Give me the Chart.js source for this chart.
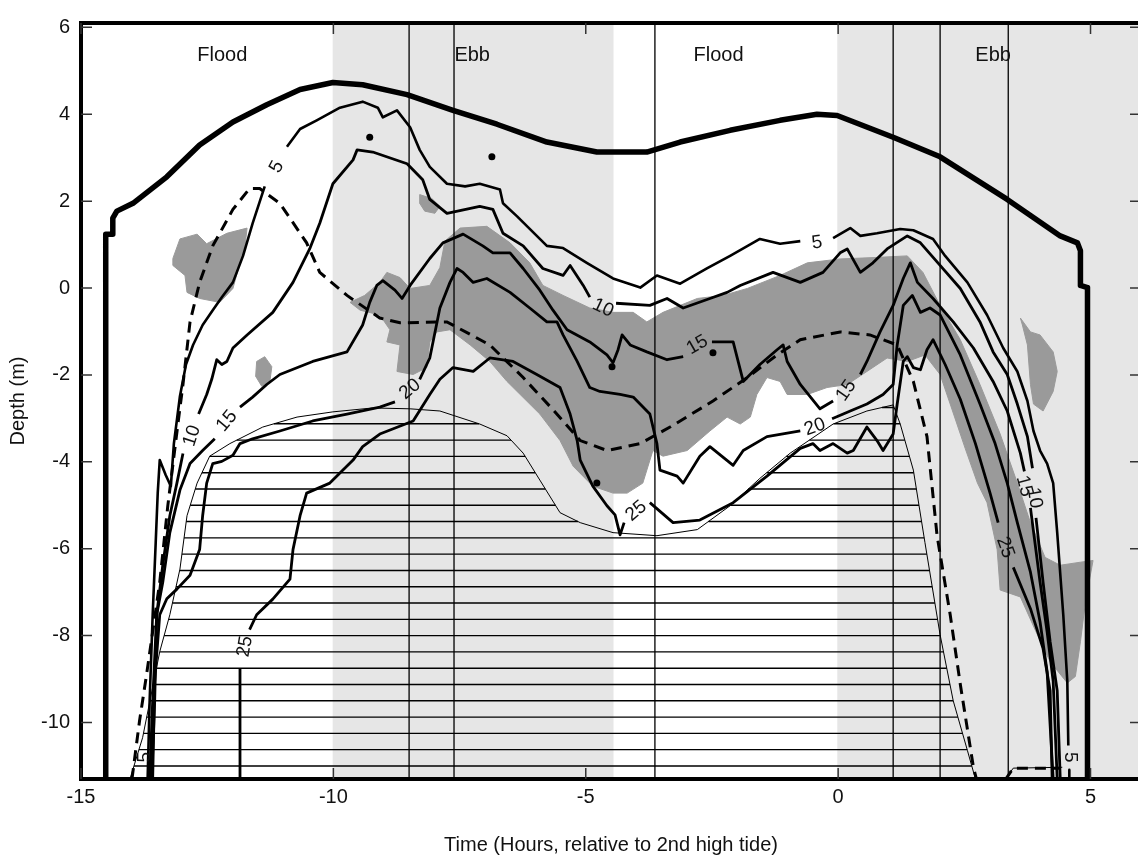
<!DOCTYPE html>
<html>
<head>
<meta charset="utf-8">
<script src="https://cdn.jsdelivr.net/npm/chart.js@4.4.1/dist/chart.umd.min.js"></script>
<style>
  html, body { margin: 0; padding: 0; background: #fff; overflow: hidden; }
  #wrap { position: absolute; left: 0; top: 0; width: 1146px; height: 858px; }
</style>
</head>
<body>
<div id="wrap"><canvas id="salinityChart"></canvas></div>
<script>
// Axes
const xTicks = [-15, -10, -5, 0, 5];
const yTicks = [6, 4, 2, 0, -2, -4, -6, -8, -10];
const xMin = -15, xMax = 6, yMin = -11.3, yMax = 6.1;

// Tide phases (hours) and station times
const ebbPeriods = [[-10, -4.46], [0, 6]];
const stationTimes = [-8.50, -7.61, -3.63, 1.09, 2.02, 3.37];
const phaseNames = ['Flood', 'Ebb', 'Flood', 'Ebb'];
const phaseTimes = [-12.2, -7.25, -2.37, 3.07];
const phaseLabelDepth = 5.35;

// Water surface [hour, depth]
const surfaceLine = [[-14.51,-11.3],[-14.51,1.24],[-14.37,1.24],[-14.37,1.61],[-14.29,1.77],[-13.97,1.95],[-13.30,2.56],[-12.65,3.29],[-11.99,3.82],[-11.32,4.22],[-10.66,4.57],[-10.01,4.73],[-9.42,4.68],[-8.54,4.45],[-7.63,4.09],[-6.76,3.77],[-5.77,3.36],[-4.78,3.13],[-3.79,3.13],[-3.13,3.36],[-2.14,3.63],[-1.15,3.86],[-0.42,4.00],[-0.02,3.97],[1.09,3.47],[2.02,3.02],[3.35,2.04],[4.40,1.20],[4.74,1.04],[4.80,0.86],[4.80,0.06],[4.94,0.01],[4.94,-11.3]];

// Dashed line
const dashedLine = [[-13.99,-11.30],[-13.84,-9.96],[-13.70,-8.89],[-13.44,-6.77],[-13.28,-5.01],[-13.08,-3.13],[-12.98,-2.22],[-12.84,-0.78],[-12.65,0.13],[-12.39,0.97],[-11.99,1.81],[-11.66,2.29],[-11.46,2.29],[-11.06,1.95],[-10.53,1.04],[-10.27,0.36],[-9.73,-0.17],[-9.08,-0.69],[-8.68,-0.80],[-7.75,-0.78],[-6.90,-1.31],[-6.24,-2.06],[-5.65,-2.80],[-5.11,-3.51],[-4.58,-3.74],[-3.92,-3.58],[-3.33,-3.20],[-2.48,-2.60],[-1.80,-2.06],[-1.21,-1.54],[-0.75,-1.19],[0.04,-1.01],[0.63,-1.08],[1.17,-1.31],[1.49,-2.15],[1.76,-3.42],[1.96,-5.70],[2.22,-7.52],[2.42,-9.12],[2.68,-11.03],[2.74,-11.30],[3.31,-11.32],[3.47,-11.05],[4.40,-11.05]];

// Thin bed line (hatched below) and its tail
const bedLine = [[-14.03,-11.30],[-13.78,-10.35],[-13.44,-8.37],[-13.24,-7.52],[-13.04,-6.47],[-12.90,-5.24],[-12.70,-4.49],[-12.45,-3.87],[-12.05,-3.58],[-11.40,-3.20],[-10.72,-2.97],[-10.01,-2.85],[-9.22,-2.76],[-8.48,-2.78],[-7.89,-2.83],[-7.10,-3.13],[-6.56,-3.40],[-6.24,-3.80],[-5.91,-4.42],[-5.51,-5.17],[-5.11,-5.40],[-4.46,-5.63],[-3.59,-5.70],[-2.79,-5.56],[-2.14,-5.01],[-1.55,-4.38],[-0.95,-3.80],[-0.10,-3.13],[0.57,-2.83],[1.09,-2.69],[1.23,-3.13],[1.49,-4.19],[1.72,-5.86],[2.02,-7.98],[2.28,-9.50],[2.56,-10.64],[2.72,-11.30]];
const bedTail = [[2.72,-11.30],[3.31,-11.30],[3.47,-11.05],[4.44,-11.03]];
const hatchDepths = [-2.75,-3.125,-3.5,-3.875,-4.25,-4.625,-5,-5.375,-5.75,-6.125,-6.5,-6.875,-7.25,-7.625,-8,-8.375,-8.75,-9.125,-9.5,-9.875,-10.25,-10.625,-11];

// Salinity contours (null = break for label)
const contour5 = [[-13.68,-11.30],[-13.64,-9.50],[-13.58,-7.52],[-13.52,-5.86],[-13.48,-4.72],[-13.44,-3.96],[-13.32,-4.31],[-13.22,-4.56],[-13.16,-3.58],[-13.04,-2.49],[-12.92,-1.76],[-12.78,-1.31],[-12.59,-0.85],[-12.39,-0.51],[-12.21,-0.21],[-11.99,0.13],[-11.79,0.74],[-11.60,1.49],[-11.36,2.34],null,[-10.92,3.25],[-10.66,3.66],[-10.33,3.86],[-9.87,4.15],[-9.42,4.29],[-9.12,4.15],[-9.02,3.93],[-8.74,4.09],[-8.48,3.70],[-8.29,3.18],[-8.09,2.79],[-7.75,2.40],[-7.39,2.34],[-7.10,2.40],[-6.70,2.27],[-6.64,1.95],[-6.36,1.65],[-6.11,1.36],[-5.77,0.97],[-5.45,0.92],[-4.98,0.58],[-4.46,0.22],[-3.92,0.01],[-3.59,0.29],[-3.13,0.10],[-2.60,0.45],[-2.14,0.74],[-1.55,1.13],[-1.15,1.02],[-0.75,1.08],null,[-0.10,1.15],[0.24,1.38],[0.44,1.20],[0.77,1.26],[1.23,1.36],[1.49,1.33],[1.88,1.13],[2.12,0.74],[2.56,0.13],[2.95,-0.62],[3.27,-1.38],[3.55,-1.92],[3.75,-2.60],[3.87,-3.29],[4.00,-3.74],[4.14,-4.04],[4.26,-4.49],[4.34,-5.63],[4.46,-7.52],[4.54,-9.05],[4.56,-10.53],null,[4.58,-11.09],[4.58,-11.30]];
const contour10 = [[-13.64,-11.30],[-13.58,-9.50],[-13.50,-7.52],[-13.38,-6.38],[-13.24,-5.24],[-13.10,-4.49],[-12.98,-3.81],null,[-12.67,-2.90],[-12.51,-2.45],[-12.41,-2.10],[-12.31,-1.65],[-12.21,-1.76],[-12.11,-1.69],[-11.99,-1.38],[-11.71,-1.08],[-11.20,-0.56],[-10.80,0.13],[-10.47,0.90],[-10.27,1.49],[-10.01,2.40],[-9.61,2.95],[-9.53,3.18],[-9.22,3.13],[-8.54,2.86],[-8.23,2.49],[-8.09,2.04],[-7.75,1.72],[-7.10,1.88],[-6.84,1.81],[-6.64,1.26],[-6.24,0.97],[-5.85,0.45],[-5.45,0.29],[-5.31,0.52],[-5.05,0.06],[-4.92,-0.21],null,[-4.40,-0.35],[-3.73,-0.40],[-3.39,-0.24],[-3.07,-0.46],[-2.54,-0.24],[-2.20,-0.10],[-1.94,0.06],[-1.29,0.36],[-0.75,0.13],[-0.30,0.36],[0.04,0.81],[0.18,0.90],[0.44,0.36],[0.69,0.58],[0.97,0.90],[1.37,1.20],[1.63,1.04],[2.02,0.52],[2.42,-0.01],[2.81,-0.78],[3.07,-1.47],[3.35,-1.99],[3.55,-2.67],[3.75,-3.42],[3.85,-4.15],null,[3.92,-5.29],[4.06,-6.77],[4.20,-8.14],[4.34,-9.27],[4.40,-11.30]];
const contour15 = [[-13.60,-11.30],[-13.54,-9.50],[-13.50,-7.52],[-13.38,-6.77],[-13.24,-5.63],[-13.04,-4.65],[-12.84,-4.04],[-12.59,-3.74],[-12.35,-3.47],null,[-11.85,-2.74],[-11.60,-2.51],[-11.32,-2.22],[-11.06,-1.99],[-10.41,-1.69],[-9.73,-1.47],[-9.42,-0.85],[-9.28,-0.33],[-9.14,0.06],[-9.02,0.17],[-8.78,-0.05],[-8.64,-0.24],[-8.48,0.06],[-8.09,0.68],[-7.83,1.04],[-7.43,1.24],[-7.04,0.97],[-6.84,0.81],[-6.50,0.81],[-6.24,0.45],[-5.91,-0.05],[-5.65,-0.51],[-5.37,-0.96],[-4.92,-1.24],[-4.58,-1.54],[-4.46,-1.72],[-4.36,-1.42],[-4.28,-1.08],[-4.12,-1.31],[-3.79,-1.47],[-3.39,-1.65],[-3.07,-1.58],null,[-2.50,-1.24],[-2.08,-1.24],[-1.88,-2.15],[-1.55,-1.76],[-1.21,-1.42],[-1.09,-1.31],[-1.01,-1.69],[-0.75,-2.22],[-0.36,-2.78],[-0.10,-2.60],null,[0.44,-1.99],[0.57,-1.69],[0.83,-1.01],[1.09,-0.40],[1.29,0.22],[1.43,0.58],[1.57,0.13],[1.88,-0.24],[2.28,-0.78],[2.68,-1.38],[3.07,-2.15],[3.35,-2.83],[3.61,-3.80],[3.69,-4.22],null,[3.81,-5.06],[4.00,-6.77],[4.14,-7.91],[4.26,-9.05],[4.34,-11.30]];
const contour20 = [[-13.58,-11.30],[-13.54,-9.05],[-13.44,-7.52],[-13.30,-7.15],[-13.10,-6.93],[-12.84,-6.61],[-12.65,-6.02],[-12.59,-5.24],[-12.51,-4.49],[-12.39,-4.04],[-12.21,-3.99],[-11.99,-3.85],[-11.85,-3.58],[-11.60,-3.47],[-11.06,-3.29],[-10.41,-3.06],[-9.73,-2.90],[-9.08,-2.74],[-8.78,-2.62],null,[-8.29,-2.10],[-8.09,-1.61],[-7.89,-0.46],[-7.69,0.13],[-7.55,0.45],[-7.43,0.36],[-7.23,0.13],[-6.96,0.22],[-6.50,-0.10],[-6.11,-0.46],[-5.77,-0.78],[-5.57,-0.78],[-5.45,-1.08],[-5.17,-1.69],[-4.92,-2.29],[-4.72,-2.38],[-4.32,-2.45],[-4.06,-2.51],[-3.73,-2.90],[-3.59,-3.58],[-3.53,-4.19],[-3.19,-4.33],[-3.07,-4.49],[-2.74,-3.87],[-2.54,-3.65],[-2.08,-4.08],[-1.88,-3.74],[-1.41,-3.42],[-0.75,-3.29],null,[-0.12,-3.01],[0.24,-2.83],[0.57,-2.67],[0.89,-2.45],[1.09,-2.22],[1.17,-1.31],[1.29,-0.40],[1.47,-0.17],[1.63,-0.56],[1.82,-0.46],[2.02,-0.62],[2.42,-1.54],[2.81,-2.67],[3.11,-3.58],[3.35,-4.49],[3.55,-5.40],[3.81,-6.54],[4.00,-7.68],[4.14,-8.83],[4.26,-11.30]];
const contour25 = [[-11.85,-11.30],[-11.85,-8.77],null,[-11.66,-7.86],[-11.52,-7.52],[-11.20,-7.16],[-10.86,-6.70],[-10.80,-6.02],[-10.66,-5.24],[-10.53,-4.72],[-10.07,-4.49],[-9.61,-3.96],[-9.42,-3.65],[-9.08,-3.36],[-8.42,-3.06],[-8.09,-2.45],[-7.89,-2.10],[-7.63,-1.83],[-7.23,-1.92],[-6.90,-1.61],[-6.44,-1.69],[-5.97,-1.99],[-5.51,-2.29],[-5.31,-2.90],[-5.17,-3.51],[-5.11,-3.96],[-4.86,-4.56],[-4.58,-5.01],[-4.42,-5.22],[-4.32,-5.68],[-4.24,-5.40],null,[-3.73,-4.94],[-3.27,-5.40],[-2.74,-5.34],[-2.08,-4.94],[-1.41,-4.33],[-0.75,-3.69],[-0.50,-3.58],[-0.36,-3.74],[-0.10,-3.58],[0.18,-3.80],[0.30,-3.74],[0.57,-3.20],[0.77,-3.51],[0.89,-3.74],[1.09,-3.36],[1.17,-2.67],[1.29,-1.69],[1.37,-1.58],[1.49,-1.83],[1.63,-1.88],[1.76,-1.42],[1.88,-1.19],[2.12,-1.76],[2.42,-2.56],[2.72,-3.58],[3.01,-4.72],[3.17,-5.40],null,[3.47,-6.43],[3.81,-7.38],[4.06,-8.30],[4.20,-9.27],[4.24,-11.30]];

// Contour labels: [text, hour, depth, angle]
const contourLabels = [
  ['5', -11.12, 2.79, -62], ['10', -12.80, -3.40, -72], ['15', -12.11, -3.06, -50],
  ['25', -11.75, -8.25, -80], ['20', -8.48, -2.33, -40], ['10', -4.66, -0.46, 25],
  ['15', -2.79, -1.31, -30], ['25', -4.00, -5.13, -40], ['5', -0.42, 1.04, -8],
  ['20', -0.46, -3.20, -20], ['15', 0.16, -2.36, -55], ['15', 3.69, -4.56, 75],
  ['10', 3.89, -4.83, 80], ['25', 3.31, -5.97, 70], ['5', 4.60, -10.80, 90],
  ['5', -13.74, -10.80, -90]
];

// Dark shaded patches (polygons)
const patchLeft = [[-13.18,0.68],[-13.04,1.13],[-12.70,1.24],[-12.51,1.02],[-12.11,1.26],[-11.71,1.38],[-11.75,0.97],[-11.85,0.58],[-11.99,-0.01],[-12.25,-0.33],[-12.65,-0.24],[-12.90,-0.10],[-12.94,0.29],[-13.18,0.52]];
const patchSmall = [[-11.52,-1.69],[-11.36,-1.58],[-11.22,-1.81],[-11.26,-2.17],[-11.42,-2.26],[-11.54,-2.03]];
const patchTop = [[-8.29,2.15],[-8.05,2.06],[-7.89,1.88],[-7.99,1.72],[-8.19,1.77],[-8.29,1.95]];
const patchRight = [[3.61,-0.69],[3.81,-1.01],[4.00,-1.08],[4.26,-1.47],[4.34,-1.92],[4.26,-2.38],[4.06,-2.83],[3.87,-2.67],[3.81,-2.22],[3.75,-1.31],[3.65,-0.85]];
const patchCentral = [[-9.67,-0.33],[-9.38,-0.17],[-9.08,0.13],[-8.94,0.36],[-8.68,0.24],[-8.48,-0.01],[-8.09,0.06],[-7.89,0.47],[-7.79,1.08],[-7.49,1.38],[-6.96,1.42],[-6.50,1.04],[-6.11,0.58],[-5.85,0.06],[-5.45,-0.17],[-4.92,-0.46],[-4.46,-0.56],[-4.06,-0.56],[-3.79,-0.78],[-3.47,-0.56],[-2.79,-0.24],[-2.28,-0.17],[-1.80,-0.01],[-1.15,0.29],[-0.61,0.58],[0.04,0.67],[0.69,0.70],[1.37,0.74],[1.68,0.36],[2.02,-0.40],[2.42,-1.19],[2.81,-2.22],[3.21,-3.36],[3.55,-4.49],[3.81,-5.40],[4.10,-6.20],[4.40,-6.38],[4.80,-6.31],[5.05,-6.27],[4.90,-7.22],[4.80,-8.14],[4.70,-8.94],[4.54,-9.09],[4.20,-8.60],[3.90,-7.86],[3.61,-7.11],[3.21,-6.95],[3.15,-6.02],[2.95,-4.94],[2.76,-4.49],[2.52,-3.70],[2.22,-2.67],[2.02,-1.99],[1.72,-1.54],[1.37,-1.69],[0.97,-1.61],[0.57,-1.92],[0.18,-2.22],[-0.22,-2.29],[-0.61,-2.45],[-1.01,-2.45],[-1.15,-2.15],[-1.41,-2.06],[-1.61,-2.45],[-1.74,-2.97],[-1.94,-3.13],[-2.20,-2.97],[-2.54,-3.29],[-2.99,-3.74],[-3.47,-3.87],[-3.67,-3.74],[-3.87,-4.49],[-4.18,-4.72],[-4.46,-4.72],[-4.86,-4.56],[-5.25,-4.10],[-5.51,-3.51],[-5.91,-2.90],[-6.30,-2.45],[-6.56,-2.15],[-6.90,-1.69],[-7.29,-1.31],[-7.69,-0.96],[-7.95,-1.01],[-8.09,-1.24],[-8.15,-1.83],[-8.42,-1.99],[-8.74,-1.92],[-8.68,-1.31],[-8.94,-1.24],[-8.88,-0.96],[-9.08,-0.62],[-9.47,-0.51]];

// Small black blobs
const blobs = [[-9.28,3.47],[-6.86,3.02],[-4.48,-1.81],[-2.48,-1.49],[-4.78,-4.49]];

const FONT = '"Liberation Sans", Arial, Helvetica, sans-serif';

function pts(arr) {
    return arr.map(p => p ? {x: p[0], y: p[1]} : {x: null, y: null});
}
function closed(arr) {
    return pts(arr.concat([arr[0]]));
}
function hatchSegments(curve, depths) {
    const out = [];
    depths.forEach(d => {
        const xs = [];
        for (let i = 0; i < curve.length - 1; i++) {
            const [x1, y1] = curve[i], [x2, y2] = curve[i + 1];
            if ((y1 < d) !== (y2 < d)) xs.push(x1 + (d - y1) * (x2 - x1) / (y2 - y1));
        }
        xs.sort((a, b) => a - b);
        for (let k = 0; k + 1 < xs.length; k += 2) {
            out.push({x: xs[k], y: d}, {x: xs[k + 1], y: d}, {x: null, y: null});
        }
    });
    return out;
}
function stationData() {
    const out = [];
    stationTimes.forEach(t => out.push({x: t, y: yMin}, {x: t, y: yMax}, {x: null, y: null}));
    return out;
}

const line = (data, width, order, extra) => Object.assign({
    data: data, showLine: true, borderColor: '#000', borderWidth: width,
    pointRadius: 0, pointHoverRadius: 0, fill: false, tension: 0,
    borderJoinStyle: 'round', order: order
}, extra || {});
const shape = (poly, color, order) => ({
    data: closed(poly), showLine: true, fill: 'shape', backgroundColor: color,
    borderColor: color, borderWidth: 1, pointRadius: 0, pointHoverRadius: 0, order: order
});

const datasets = [];
ebbPeriods.forEach(([a, b]) => {
    datasets.push(shape([[a, yMin], [b, yMin], [b, yMax], [a, yMax]], '#e6e6e6', 20));
});
[patchLeft, patchSmall, patchTop, patchRight, patchCentral].forEach(p => {
    datasets.push(shape(p, '#9a9a9a', 15));
});
datasets.push(line(hatchSegments(bedLine, hatchDepths), 1.4, 12));
datasets.push(line(pts(bedLine), 1, 11));
datasets.push(line(pts(bedTail), 1, 11));
datasets.push(line(stationData(), 1.3, 10));
datasets.push(line(pts(dashedLine), 3, 8, {borderDash: [11, 7], borderJoinStyle: 'miter'}));
datasets.push(line(pts(contour5), 2.6, 6));
datasets.push(line(pts(contour10), 2.8, 6));
datasets.push(line(pts(contour15), 2.8, 6));
datasets.push(line(pts(contour20), 2.8, 6));
datasets.push(line(pts(contour25), 2.8, 6));
datasets.push(line(pts(surfaceLine), 5.5, 4));
datasets.push({data: pts(blobs), showLine: false, pointRadius: 3.5, pointBackgroundColor: '#000', pointBorderWidth: 0, order: 2});

// Labels, frame and inward ticks
const decorPlugin = {
    id: 'decor',
    afterDatasetsDraw(chart) {
        const {ctx, chartArea: a, scales: {x, y}} = chart;
        ctx.save();
        ctx.fillStyle = '#111';
        ctx.textAlign = 'center';
        ctx.textBaseline = 'middle';
        ctx.font = '19px ' + FONT;
        contourLabels.forEach(([t, h, d, ang]) => {
            ctx.save();
            ctx.translate(x.getPixelForValue(h), y.getPixelForValue(d));
            ctx.rotate(ang * Math.PI / 180);
            ctx.fillText(t, 0, 0);
            ctx.restore();
        });
        ctx.font = '20px ' + FONT;
        phaseNames.forEach((n, i) => {
            ctx.fillText(n, x.getPixelForValue(phaseTimes[i]), y.getPixelForValue(phaseLabelDepth));
        });

        ctx.strokeStyle = '#000';
        ctx.lineWidth = 4;
        ctx.beginPath();
        ctx.moveTo(a.right, a.top);
        ctx.lineTo(a.left, a.top);
        ctx.lineTo(a.left, a.bottom);
        ctx.lineTo(a.right, a.bottom);
        ctx.lineTo(a.right, a.top);
        ctx.stroke();

        ctx.lineWidth = 1.5;
        ctx.strokeStyle = '#333';
        ctx.beginPath();
        xTicks.forEach(v => {
            const px = x.getPixelForValue(v);
            ctx.moveTo(px, a.bottom); ctx.lineTo(px, a.bottom - 11);
            ctx.moveTo(px, a.top); ctx.lineTo(px, a.top + 11);
        });
        yTicks.forEach(v => {
            const py = y.getPixelForValue(v);
            ctx.moveTo(a.left, py); ctx.lineTo(a.left + 11, py);
            ctx.moveTo(a.right, py); ctx.lineTo(a.right - 11, py);
        });
        ctx.stroke();
        ctx.restore();
    }
};

const config = {
    type: 'scatter',
    data: {datasets: datasets},
    options: {
        responsive: true,
        maintainAspectRatio: false,
        animation: false,
        devicePixelRatio: 1,
        events: [],
        layout: {padding: {top: 15, right: 5, bottom: 0, left: 0}},
        plugins: {legend: {display: false}, tooltip: {enabled: false}},
        scales: {
            x: {
                type: 'linear', min: xMin, max: xMax,
                afterFit: s => { s.height = 79; },
                afterBuildTicks: s => { s.ticks = xTicks.map(v => ({value: v})); },
                grid: {display: false, drawTicks: false},
                border: {display: false},
                ticks: {color: '#111', padding: 6, font: {family: FONT, size: 20}, maxRotation: 0},
                title: {display: true, text: 'Time (Hours, relative to 2nd high tide)', color: '#111',
                        font: {family: FONT, size: 20}, padding: {top: 0, bottom: 1}}
            },
            y: {
                type: 'linear', min: yMin, max: yMax,
                afterFit: s => { s.width = 81; },
                afterBuildTicks: s => { s.ticks = yTicks.map(v => ({value: v})); },
                grid: {display: false, drawTicks: false},
                border: {display: false},
                ticks: {color: '#111', padding: 11, font: {family: FONT, size: 20}},
                title: {display: true, text: 'Depth (m)', color: '#111',
                        font: {family: FONT, size: 20}, padding: {top: 6, bottom: 0}}
            }
        }
    },
    plugins: [decorPlugin]
};

new Chart(document.getElementById('salinityChart').getContext('2d'), config);
</script>
</body>
</html>
